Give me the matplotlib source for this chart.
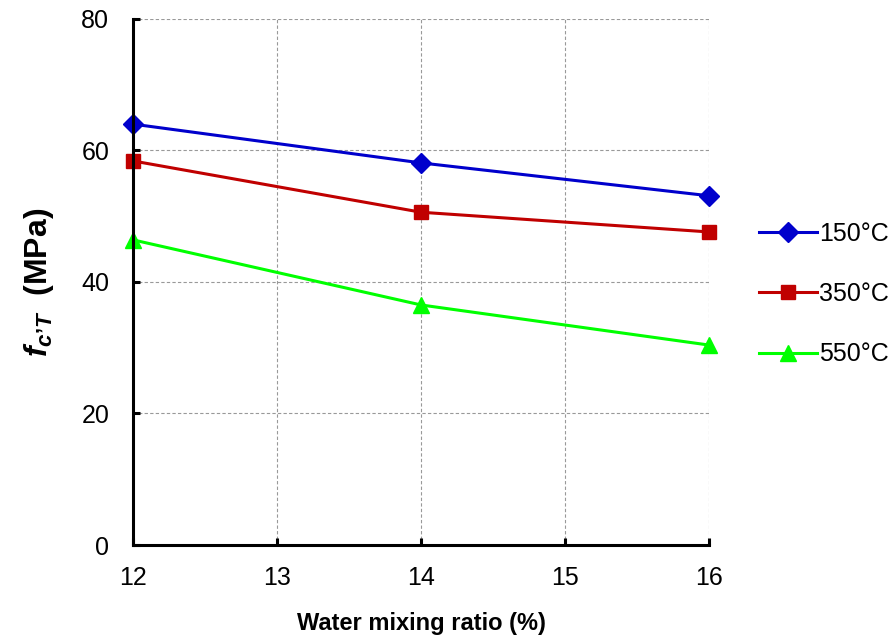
import matplotlib
matplotlib.use("Agg")
import matplotlib.pyplot as plt

plt.rcParams['font.family'] = ['Liberation Sans', 'DejaVu Sans']
plt.rcParams['mathtext.fontset'] = 'custom'
plt.rcParams['mathtext.it'] = 'Liberation Sans:bold:italic'
plt.rcParams['mathtext.rm'] = 'Liberation Sans:bold'
plt.rcParams['mathtext.bf'] = 'Liberation Sans:bold'

x = [12, 14, 16]
s150 = [64.0, 58.1, 53.1]
s350 = [58.4, 50.6, 47.6]
s550 = [46.4, 36.5, 30.4]
labels = ['150\u00b0C', '350\u00b0C', '550\u00b0C']
xticks = [12, 13, 14, 15, 16]
yticks = [0, 20, 40, 60, 80]

fig = plt.figure(figsize=(8.92, 6.44), dpi=100)
ax = fig.add_axes([0.149, 0.1537, 0.646, 0.817])

ax.plot(x, s150, color='#0000CC', lw=2.2, marker='D', ms=10, label=labels[0])
ax.plot(x, s350, color='#C00000', lw=2.2, marker='s', ms=10, label=labels[1])
ax.plot(x, s550, color='#00FF00', lw=2.2, marker='^', ms=12, label=labels[2])

ax.set_xlim(12, 16)
ax.set_ylim(0, 80)
ax.set_xticks(xticks)
ax.set_yticks(yticks)
ax.grid(True, color='#999999', ls=(0, (3, 2)), lw=0.8)
ax.set_axisbelow(True)
for s in ['top', 'right']:
    ax.spines[s].set_visible(False)
for s in ['left', 'bottom']:
    ax.spines[s].set_linewidth(2.2)
ax.tick_params(direction='in', length=5, width=2.2, labelsize=18)
ax.tick_params(axis='y', pad=17)
ax.tick_params(axis='x', pad=15)
for line in ax.get_lines():
    line.set_clip_on(False)

ax.set_xlabel('Water mixing ratio (%)', fontsize=17, fontweight='bold', labelpad=16)
ax.set_ylabel("$f_{c\u2019T}$  (MPa)", fontsize=23, fontweight='bold', labelpad=18)

leg = ax.legend(loc='center left', bbox_to_anchor=(1.048, 0.477), frameon=False,
                fontsize=18, labelspacing=1.45, handlelength=2.3, handletextpad=0.1)

fig.savefig('out.png', dpi=100)
